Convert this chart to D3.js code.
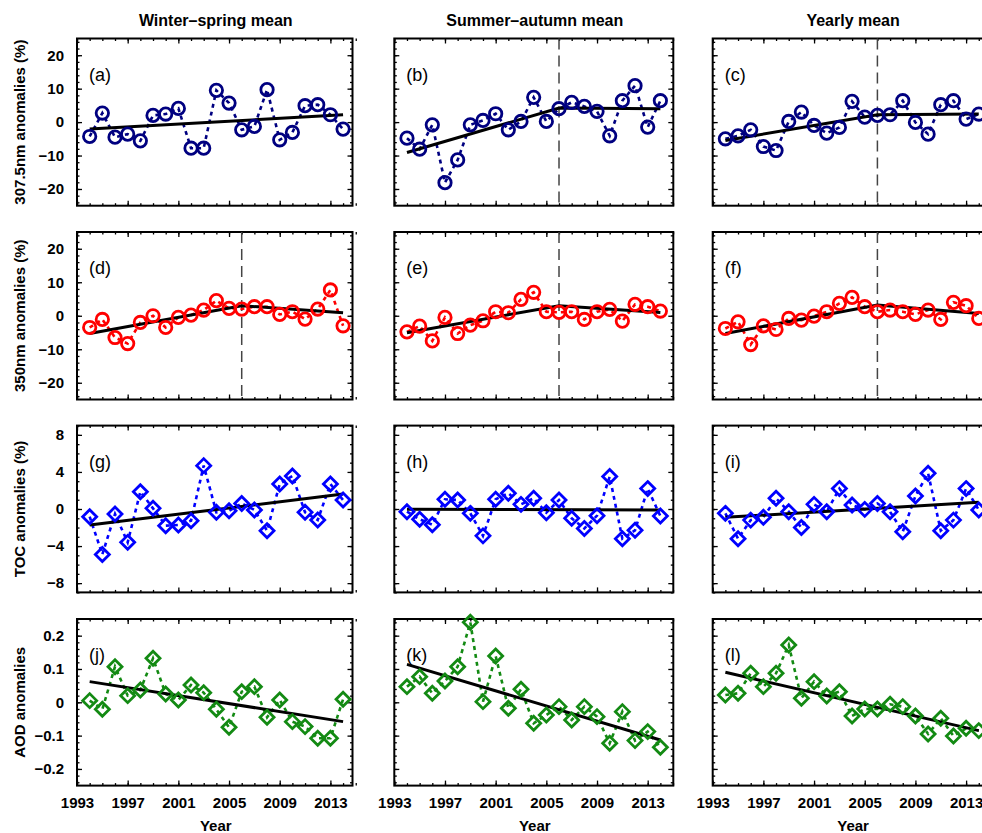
<!DOCTYPE html>
<html>
<head>
<meta charset="utf-8">
<script src="https://cdn.jsdelivr.net/npm/d3@7"></script>
<style>
body { margin: 0; background: #fff; }
svg { display: block; font-family: "Liberation Sans", Arial, Helvetica, sans-serif; }
</style>
</head>
<body>
<svg id="chart" width="982" height="833"></svg>
<script>
// ---- data ----
var years = [1994, 1995, 1996, 1997, 1998, 1999, 2000, 2001, 2002, 2003, 2004,
             2005, 2006, 2007, 2008, 2009, 2010, 2011, 2012, 2013, 2014];
var columnTitles = ["Winter\u2013spring mean", "Summer\u2013autumn mean", "Yearly mean"];
var rowLabels = ["307.5nm anomalies (%)", "350nm anomalies (%)", "TOC anomalies (%)", "AOD anomalies"];
var panelLetters = ["a", "b", "c", "d", "e", "f", "g", "h", "i", "j", "k", "l"];
var xTickYears = [1993, 1997, 2001, 2005, 2009, 2013];
var yTicksUv = [-20, -10, 0, 10, 20];
var yTicksToc = [-8, -4, 0, 4, 8];
var yTicksAod = [-0.2, -0.1, 0, 0.1, 0.2];
var breakYear = 2006;
var breakPanels = ["b", "c", "d", "e", "f"];

var ws307 = [-4.3, 2.7, -4.5, -3.6, -5.6, 2.0, 2.4, 4.1, -7.8, -7.8, 9.5, 5.7, -2.3, -1.3, 9.7, -5.3, -3.1, 4.9, 5.2, 2.2, -2.1];
var sa307 = [-4.8, -8.1, -0.8, -18.1, -11.3, -0.8, 0.5, 2.5, -2.3, 0.2, 7.4, 0.2, 4.0, 5.9, 4.7, 3.2, -4.1, 6.4, 10.9, -1.5, 6.4];
var yr307 = [-5.0, -4.1, -2.3, -7.3, -8.5, 0.2, 3.0, -1.0, -3.3, -1.6, 6.2, 1.5, 2.0, 2.2, 6.4, -0.1, -3.6, 5.2, 6.4, 0.9, 2.4];
var ws350 = [-3.5, -1.1, -6.5, -8.3, -2.0, 0.0, -3.5, -0.5, 0.2, 1.7, 4.5, 2.2, 2.0, 2.7, 2.7, 0.4, 1.2, -1.0, 2.0, 7.7, -3.0];
var sa350 = [-4.8, -3.1, -7.5, -0.5, -5.3, -2.8, -1.5, 1.2, 0.9, 4.9, 7.0, 1.2, 1.0, 1.2, -1.1, 1.2, 1.9, -1.6, 3.4, 2.7, 1.4];
var yr350 = [-3.8, -1.8, -8.6, -3.0, -4.1, -0.8, -1.3, -0.1, 1.2, 3.7, 5.5, 2.7, 1.2, 1.7, 1.2, 0.4, 1.7, -1.1, 4.0, 3.0, -0.8];
var wsToc = [-0.83, -4.9, -0.54, -3.6, 1.87, 0.07, -1.8, -1.73, -1.26, 4.68, -0.36, -0.2, 0.6, -0.1, -2.34, 2.7, 3.57, -0.36, -1.19, 2.7, 0.97];
var saToc = [-0.29, -1.1, -1.7, 1.05, 0.97, -0.47, -2.9, 1.05, 1.7, 0.5, 1.15, -0.4, 0.97, -1.0, -2.1, -0.72, 3.5, -3.2, -2.3, 2.2, -0.76];
var yrToc = [-0.47, -3.2, -1.2, -0.9, 1.15, -0.29, -2.0, 0.5, -0.29, 2.2, 0.43, -0.04, 0.6, -0.3, -2.45, 1.4, 3.86, -2.34, -1.2, 2.2, -0.1];
var wsAod = [0.005, -0.021, 0.107, 0.02, 0.037, 0.132, 0.025, 0.007, 0.052, 0.029, -0.021, -0.075, 0.032, 0.047, -0.045, 0.007, -0.058, -0.073, -0.108, -0.108, 0.009];
var saAod = [0.047, 0.077, 0.027, 0.064, 0.107, 0.24, 0.002, 0.139, -0.018, 0.039, -0.063, -0.038, -0.013, -0.053, -0.013, -0.043, -0.123, -0.028, -0.115, -0.088, -0.135];
var yrAod = [0.022, 0.027, 0.087, 0.047, 0.087, 0.172, 0.012, 0.062, 0.019, 0.032, -0.041, -0.02, -0.02, -0.006, -0.013, -0.041, -0.095, -0.048, -0.101, -0.078, -0.085];

// trend lines: linear fits and piecewise fits broken at 2006
var linYears = [1994, 2014];
var brkYears = [1994, 2006, 2014];
var trendA = [-2.1, 2.2];
var trendB = [-9.1, 4.2, 4.0];
var trendC = [-5.5, 2.2, 2.4];
var trendD = [-5.3, 3.0, 0.9];
var trendE = [-5.1, 3.0, 1.0];
var trendF = [-5.3, 3.2, 0.7];
var trendG = [-1.73, 1.62];
var trendH = [-0.04, -0.1];
var trendI = [-0.9, 0.72];
var trendJ = [0.062, -0.058];
var trendK = [0.114, -0.113];
var trendL = [0.09, -0.085];

var series = [ws307, sa307, yr307, ws350, sa350, yr350, wsToc, saToc, yrToc, wsAod, saAod, yrAod];
var trends = [trendA, trendB, trendC, trendD, trendE, trendF, trendG, trendH, trendI, trendJ, trendK, trendL];

// ---- layout ----
var svg = d3.select("#chart");
var colLeft = [77, 394.3, 712.7];
var colRight = [352.5, 673.3, 991.5];
var rowTop = [38.5, 232, 425.6, 619];
var rowBottom = [205.7, 399.5, 592.4, 785.6];
var rowDomain = [[-25, 25], [-25, 25], [-9, 9], [-0.25, 0.25]];
var rowTicks = [yTicksUv, yTicksUv, yTicksToc, yTicksAod];
var rowMinor = [25, 25, 18, 25];
var rowColor = ["#000080", "#ff0000", "#0000ff", "#138a13"];
var rowMarker = ["circle", "circle", "diamond", "diamond"];

var fmt = function(d) { return d < 0 ? "\u2212" + Math.abs(d) : String(d); };

// column titles
columnTitles.forEach(function(t, c) {
    svg.append("text")
        .attr("x", (colLeft[c] + colRight[c]) / 2 + 1)
        .attr("y", 26)
        .attr("text-anchor", "middle")
        .attr("font-size", 16)
        .attr("font-weight", "bold")
        .text(t);
});

// row labels
rowLabels.forEach(function(t, r) {
    var cy = (rowTop[r] + rowBottom[r]) / 2;
    svg.append("text")
        .attr("transform", "translate(25," + cy + ") rotate(-90)")
        .attr("text-anchor", "middle")
        .attr("font-size", 15)
        .attr("font-weight", "bold")
        .text(t);
});

function styleAxis(g) {
    g.select(".domain").remove();
    g.selectAll("line").attr("stroke", "#000").attr("stroke-width", 1.3);
    g.selectAll("text")
        .attr("font-size", 15)
        .attr("font-weight", "bold")
        .attr("font-family", "Liberation Sans, Arial, Helvetica, sans-serif")
        .attr("fill", "#000");
}

function drawPanel(r, c) {
    var idx = r * 3 + c;
    var x0 = colLeft[c], x1 = colRight[c];
    var y0 = rowTop[r], y1 = rowBottom[r];

    var x = d3.scaleLinear().domain([1993, 2015]).range([x0, x0 + 22 * 12.67]);
    var y = d3.scaleLinear().domain(rowDomain[r]).range([y1, y0]);

    var g = svg.append("g");

    // minor ticks
    g.append("g").attr("transform", "translate(" + x0 + ",0)")
        .call(d3.axisLeft(y).ticks(rowMinor[r]).tickSize(-2.5).tickFormat("")).call(styleAxis);
    g.append("g").attr("transform", "translate(" + x1 + ",0)")
        .call(d3.axisRight(y).ticks(rowMinor[r]).tickSize(-2.5).tickFormat("")).call(styleAxis);
    g.append("g").attr("transform", "translate(0," + y1 + ")")
        .call(d3.axisBottom(x).ticks(22).tickSize(-2.5).tickFormat("")).call(styleAxis);
    g.append("g").attr("transform", "translate(0," + y0 + ")")
        .call(d3.axisTop(x).ticks(22).tickSize(-2.5).tickFormat("")).call(styleAxis);

    // major ticks
    g.append("g").attr("transform", "translate(" + x0 + ",0)")
        .call(d3.axisLeft(y).tickValues(rowTicks[r]).tickSize(-5).tickPadding(13)
            .tickFormat(c === 0 ? fmt : "")).call(styleAxis);
    g.append("g").attr("transform", "translate(" + x1 + ",0)")
        .call(d3.axisRight(y).tickValues(rowTicks[r]).tickSize(-5).tickFormat("")).call(styleAxis);
    g.append("g").attr("transform", "translate(0," + y1 + ")")
        .call(d3.axisBottom(x).tickValues(xTickYears).tickSize(-5).tickPadding(12)
            .tickFormat(r === 3 ? d3.format("d") : "")).call(styleAxis);
    g.append("g").attr("transform", "translate(0," + y0 + ")")
        .call(d3.axisTop(x).tickValues(xTickYears).tickSize(-5).tickFormat("")).call(styleAxis);

    // frame
    g.append("rect")
        .attr("x", x0).attr("y", y0)
        .attr("width", x1 - x0).attr("height", y1 - y0)
        .attr("fill", "none").attr("stroke", "#000").attr("stroke-width", 2);

    // break line
    if (breakPanels.indexOf(panelLetters[idx]) >= 0) {
        g.append("line")
            .attr("x1", x(breakYear)).attr("x2", x(breakYear))
            .attr("y1", y0).attr("y2", y1)
            .attr("stroke", "#444").attr("stroke-width", 1.5)
            .attr("stroke-dasharray", "11,6");
    }

    // panel letter
    g.append("text")
        .attr("x", x0 + 12).attr("y", y0 + 42)
        .attr("font-size", 18)
        .text("(" + panelLetters[idx] + ")");

    var vals = series[idx];
    var pts = years.map(function(yr, i) { return [yr, vals[i]]; });
    var line = d3.line().x(function(d) { return x(d[0]); }).y(function(d) { return y(d[1]); });

    // dotted connecting line
    g.append("path")
        .datum(pts)
        .attr("d", line)
        .attr("fill", "none")
        .attr("stroke", rowColor[r])
        .attr("stroke-width", 2.6)
        .attr("stroke-dasharray", "4,4");

    // trend
    var tv = trends[idx];
    var ty = tv.length === 2 ? linYears : brkYears;
    g.append("path")
        .datum(ty.map(function(yr, i) { return [yr, tv[i]]; }))
        .attr("d", line)
        .attr("fill", "none")
        .attr("stroke", "#000")
        .attr("stroke-width", 3);

    // markers
    if (rowMarker[r] === "circle") {
        g.selectAll(".mk").data(pts).enter()
            .append("circle")
            .attr("class", "mk")
            .attr("cx", function(d) { return x(d[0]); })
            .attr("cy", function(d) { return y(d[1]); })
            .attr("r", 6.2)
            .attr("fill", "none")
            .attr("stroke", rowColor[r])
            .attr("stroke-width", 2.8);
    } else {
        g.selectAll(".mk").data(pts).enter()
            .append("path")
            .attr("class", "mk")
            .attr("transform", function(d) { return "translate(" + x(d[0]) + "," + y(d[1]) + ")"; })
            .attr("d", "M0,-7L7,0L0,7L-7,0Z")
            .attr("fill", "none")
            .attr("stroke", rowColor[r])
            .attr("stroke-width", 2.8);
    }
}

for (var r = 0; r < 4; r++) {
    for (var c = 0; c < 3; c++) {
        drawPanel(r, c);
    }
}

for (var c2 = 0; c2 < 3; c2++) {
    svg.append("text")
        .attr("x", (colLeft[c2] + colRight[c2]) / 2 + 1)
        .attr("y", 831)
        .attr("text-anchor", "middle")
        .attr("font-size", 15)
        .attr("font-weight", "bold")
        .text("Year");
}
</script>
</body>
</html>
